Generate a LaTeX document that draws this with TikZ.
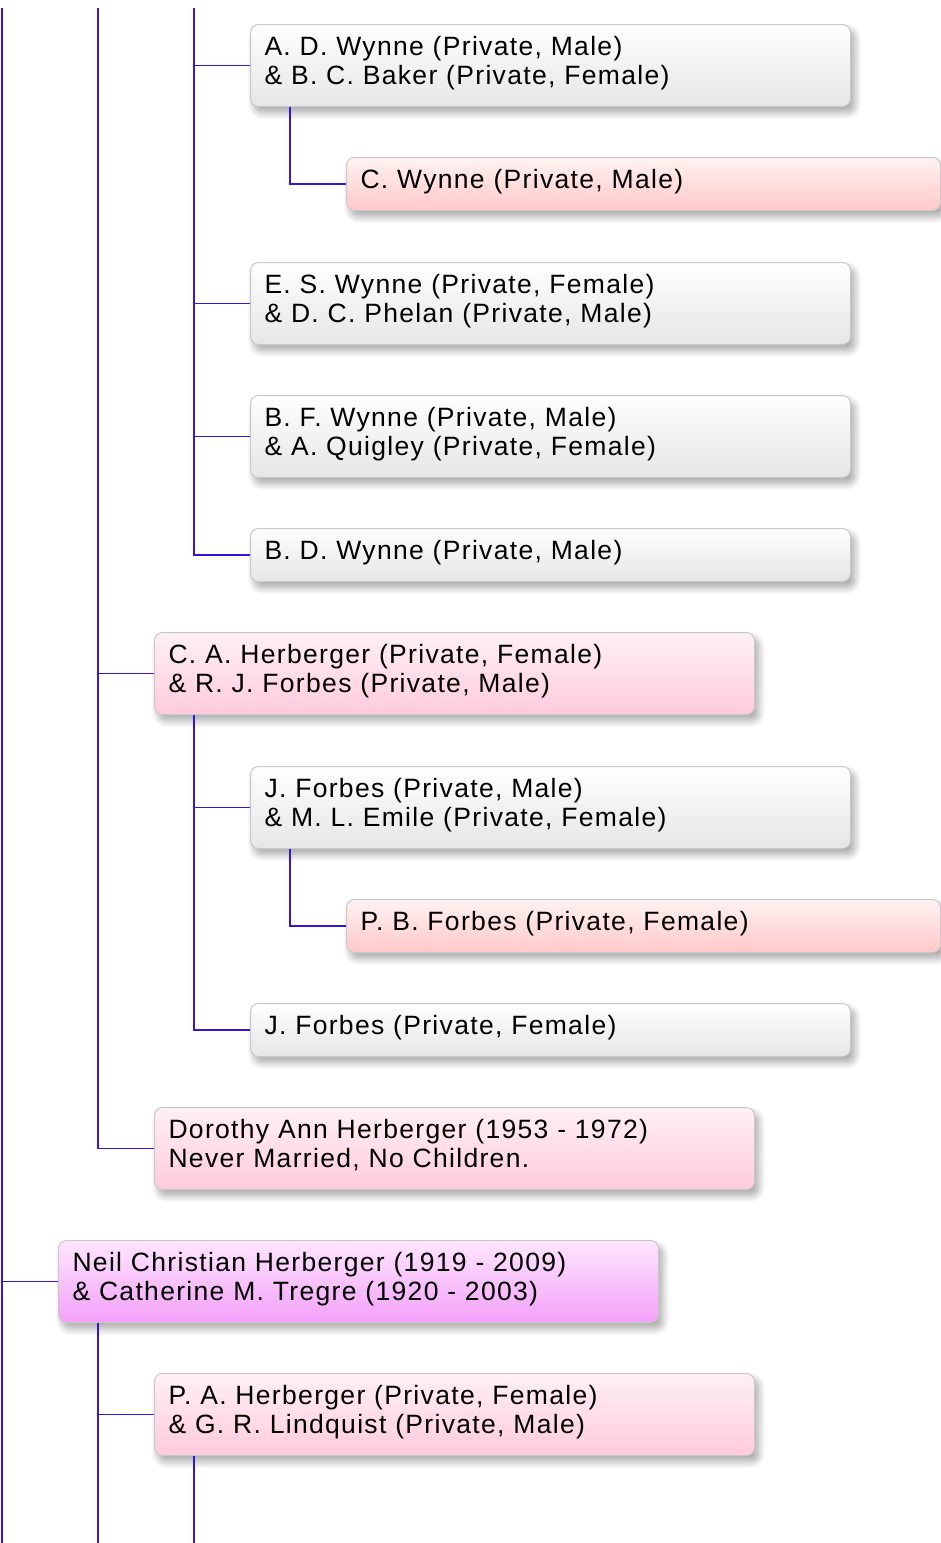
\documentclass[tikz,border=0pt]{standalone}
\usepackage{fontspec}
\setmainfont{Liberation Sans}[LetterSpace=5]
\usetikzlibrary{shadows.blur}
\definecolor{linecol}{RGB}{55,20,215}
\definecolor{boxborder}{RGB}{200,200,200}
\tikzset{
  person/.style={draw=boxborder, line width=1pt, rounded corners=8pt, anchor=north west,
    minimum width=600pt, text width=572pt, inner xsep=14pt, inner ysep=0pt, align=left,
    blur shadow={shadow xshift=4pt, shadow yshift=-6pt, shadow blur steps=10, shadow blur radius=7pt, shadow opacity=35},
    font=\fontsize{26.5}{29}\selectfont},
  twoline/.style={minimum height=82pt, text depth=39pt},
  oneline/.style={minimum height=53pt, text depth=10pt},
  narrowbox/.style={minimum width=594pt, text width=566pt},
  gbox/.style={top color={rgb,255:red,254;green,254;blue,254}, bottom color={rgb,255:red,230;green,230;blue,230}},
  pbox/.style={top color={rgb,255:red,255;green,240;blue,246}, bottom color={rgb,255:red,255;green,202;blue,220}},
  rbox/.style={top color={rgb,255:red,255;green,242;blue,242}, bottom color={rgb,255:red,255;green,200;blue,200}},
  vbox/.style={top color={rgb,255:red,255;green,230;blue,255}, bottom color={rgb,255:red,242;green,160;blue,248}},
  conn/.style={draw=linecol, line width=1.8pt}
}
\begin{document}
\begin{tikzpicture}[x=1pt,y=-1pt]
\useasboundingbox (0,0) rectangle (941,1543);
\node[person,twoline,gbox] (adw) at (250,24) {A. D. Wynne (Private, Male)\\\& B. C. Baker (Private, Female)};
\node[person,oneline,narrowbox,rbox] (cw) at (346,157) {C. Wynne (Private, Male)};
\node[person,twoline,gbox] (esw) at (250,262) {E. S. Wynne (Private, Female)\\\& D. C. Phelan (Private, Male)};
\node[person,twoline,gbox] (bfw) at (250,395) {B. F. Wynne (Private, Male)\\\& A. Quigley (Private, Female)};
\node[person,oneline,gbox] (bdw) at (250,528) {B. D. Wynne (Private, Male)};
\node[person,twoline,pbox] (cah) at (154,632) {C. A. Herberger (Private, Female)\\\& R. J. Forbes (Private, Male)};
\node[person,twoline,gbox] (jfa) at (250,766) {J. Forbes (Private, Male)\\\& M. L. Emile (Private, Female)};
\node[person,oneline,narrowbox,rbox] (pbf) at (346,899) {P. B. Forbes (Private, Female)};
\node[person,oneline,gbox] (jfb) at (250,1003) {J. Forbes (Private, Female)};
\node[person,twoline,pbox] (dah) at (154,1107) {Dorothy Ann Herberger (1953 - 1972)\\Never Married, No Children.};
\node[person,twoline,vbox] (nch) at (58,1240) {Neil Christian Herberger (1919 - 2009)\\\& Catherine M. Tregre (1920 - 2003)};
\node[person,twoline,pbox] (pah) at (154,1373) {P. A. Herberger (Private, Female)\\\& G. R. Lindquist (Private, Male)};
\coordinate (ta) at (2,8);
\coordinate (tb) at (98,8);
\coordinate (tc) at (194,8);
\coordinate (ba) at (2,1543);
\coordinate (bb) at (98,1543);
\coordinate (bc) at (194,1543);
\draw[conn] (ta) -- (ba);
\draw[conn] (ta |- nch.west) -- (nch.west);
\draw[conn] (tb) |- (dah.west);
\draw[conn] (tb |- cah.west) -- (cah.west);
\draw[conn] (tc) |- (bdw.west);
\draw[conn] (tc |- adw.west) -- (adw.west);
\draw[conn] (tc |- esw.west) -- (esw.west);
\draw[conn] (tc |- bfw.west) -- (bfw.west);
\draw[conn] ([xshift=40pt]adw.south west) |- (cw.west);
\draw[conn] ([xshift=40pt]cah.south west) |- (jfb.west);
\draw[conn] (tc |- jfa.west) -- (jfa.west);
\draw[conn] ([xshift=40pt]jfa.south west) |- (pbf.west);
\draw[conn] ([xshift=40pt]nch.south west) -- (bb);
\draw[conn] (bb |- pah.west) -- (pah.west);
\draw[conn] ([xshift=40pt]pah.south west) -- (bc);
\end{tikzpicture}
\end{document}
